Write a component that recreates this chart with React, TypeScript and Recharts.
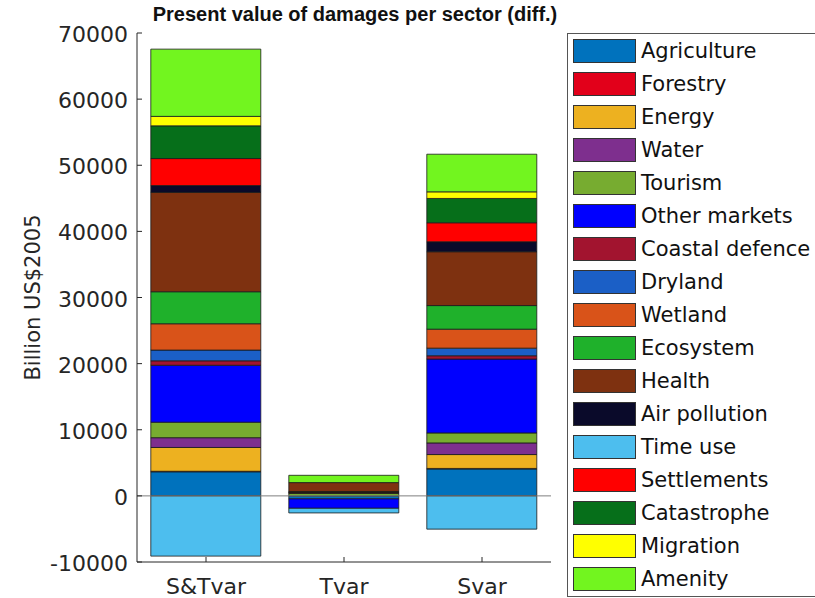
import React from 'react';
import { BarChart, Bar, XAxis, YAxis, Legend, ReferenceLine } from 'recharts';

const scenarios = ['S&Tvar', 'Tvar', 'Svar'];

const sectors = [
  'Agriculture', 'Forestry', 'Energy', 'Water', 'Tourism', 'Other markets',
  'Coastal defence', 'Dryland', 'Wetland', 'Ecosystem', 'Health', 'Air pollution',
  'Time use', 'Settlements', 'Catastrophe', 'Migration', 'Amenity',
];

const sectorColors = [
  '#0072BD', '#E2001A', '#EDB120', '#7E2F8E', '#77AC30', '#0000FF',
  '#A2142F', '#1B5FC6', '#D95319', '#1FB12B', '#7E3110', '#0A0A2A',
  '#4DBEEE', '#FF0000', '#066F1A', '#FFFF00', '#72F51F',
];

// billion US$2005, same order as sectors
const stTvarValues = [3640, 80, 3600, 1480, 2340, 8610, 680, 1620, 3980, 4840, 15030, 1030, -9110, 4080, 4950, 1430, 10170];
const tVarValues = [-450, 0, 0, 0, 400, -1430, 60, 60, 60, 70, 1360, 0, -700, 0, 0, 0, 1100];
const sVarValues = [4070, 80, 2100, 1760, 1510, 11170, 500, 1150, 2870, 3570, 8140, 1510, -5030, 2870, 3680, 1000, 5690];

const yTicks = [-10000, 0, 10000, 20000, 30000, 40000, 50000, 60000, 70000];

const data = scenarios.map((name, i) => {
  const vals = [stTvarValues, tVarValues, sVarValues][i];
  const row: Record<string, string | number> = { name };
  sectors.forEach((s, j) => {
    row[s] = vals[j];
  });
  return row;
});

const FONT = '"DejaVu Sans", sans-serif';
const INK = '#262626';
const TICK_LEN = 5;

const LeftTick = ({ x, y, payload }: any) => (
  <g>
    <line x1={x} x2={x + TICK_LEN} y1={y} y2={y} stroke={INK} />
    <text x={x - 9} y={y} dy={9} textAnchor="end" fontSize={22} fill={INK} fontFamily={FONT}>
      {payload.value}
    </text>
  </g>
);

const RightTick = ({ x, y }: any) => (
  <line x1={x - TICK_LEN} x2={x} y1={y} y2={y} stroke={INK} />
);

const TopTick = ({ x, y }: any) => (
  <line x1={x} x2={x} y1={y} y2={y + TICK_LEN} stroke={INK} />
);

const BottomTick = ({ x, y, payload }: any) => (
  <g>
    <line x1={x} x2={x} y1={y - TICK_LEN} y2={y} stroke={INK} />
    <text x={x} y={y} dy={32} textAnchor="middle" fontSize={22} fill={INK} fontFamily={FONT}>
      {payload.value}
    </text>
  </g>
);

const YLabel = ({ viewBox }: any) => {
  const cx = 33;
  const cy = viewBox ? viewBox.y + viewBox.height / 2 : 297;
  return (
    <text x={cx} y={cy} transform={`rotate(-90, ${cx}, ${cy})`} textAnchor="middle" dominantBaseline="central"
      fontSize={21} fill={INK} fontFamily={FONT}>
      Billion US$2005
    </text>
  );
};

// keep the legend in series order (Recharts sorts it by name otherwise)
const SectorLegend = ({ payload }: any) => {
  const items = [...(payload || [])].sort((a: any, b: any) => sectors.indexOf(a.value) - sectors.indexOf(b.value));
  return (
    <div style={{ border: '1px solid #555', background: '#fff', height: 564, width: 280, boxSizing: 'border-box' }}>
      {items.map((entry: any) => (
        <div key={entry.value} style={{ display: 'flex', alignItems: 'center', height: 33 }}>
          <div style={{ width: 63, height: 24, marginLeft: 5, background: entry.color, border: '1px solid #333', boxSizing: 'border-box' }} />
          <span style={{ marginLeft: 5, fontSize: 21, color: '#111', fontFamily: FONT, whiteSpace: 'nowrap' }}>{entry.value}</span>
        </div>
      ))}
    </div>
  );
};

export default function App() {
  return (
    <div style={{ position: 'fixed', left: 0, top: 0, width: 815, height: 598, overflow: 'hidden', background: '#fff' }}>
      <div style={{ position: 'absolute', left: 0, top: 4, width: 710, lineHeight: '20px', textAlign: 'center', fontFamily: '"Liberation Sans", Arial, sans-serif', fontWeight: 'bold', fontSize: 20, color: '#111', zIndex: 2 }}>
        Present value of damages per sector (diff.)
      </div>
      <BarChart width={815} height={598} data={data} stackOffset="sign" barCategoryGap="10%"
        margin={{ top: 33, right: 264, bottom: 0, left: 0 }}>
        <XAxis xAxisId="bottom" dataKey="name" orientation="bottom" height={36} interval={0}
          tickLine={false} tickSize={0} tickMargin={0} axisLine={{ stroke: INK }} tick={<BottomTick />} />
        <XAxis xAxisId="top" dataKey="name" orientation="top" height={0} interval={0}
          tickLine={false} tickSize={0} tickMargin={0} axisLine={{ stroke: INK }} tick={<TopTick />} />
        <YAxis yAxisId="left" type="number" width={137} domain={[-10000, 70000]} ticks={yTicks} interval={0}
          allowDataOverflow tickLine={false} tickSize={0} tickMargin={0} axisLine={{ stroke: INK }}
          tick={<LeftTick />} label={<YLabel />} />
        <YAxis yAxisId="right" orientation="right" type="number" width={0} domain={[-10000, 70000]} ticks={yTicks}
          interval={0} allowDataOverflow tickLine={false} tickSize={0} tickMargin={0} axisLine={{ stroke: INK }}
          tick={<RightTick />} />
        {sectors.map((s, j) => (
          <Bar key={s} xAxisId="bottom" yAxisId="left" dataKey={s} name={s} stackId="a"
            fill={sectorColors[j]} stroke="#1a1a1a" strokeWidth={0.8} isAnimationActive={false} />
        ))}
        <ReferenceLine xAxisId="bottom" yAxisId="left" y={0} stroke="#7f7f7f" />
        <Legend layout="vertical" align="center" verticalAlign="middle" content={<SectorLegend />}
          wrapperStyle={{ left: 567, top: 33, width: 282, height: 564 }} />
      </BarChart>
    </div>
  );
}
